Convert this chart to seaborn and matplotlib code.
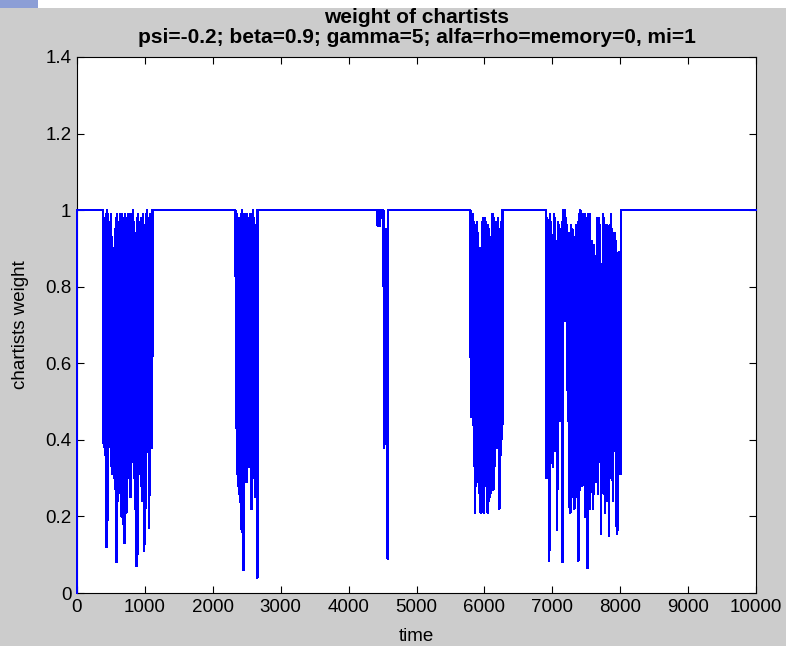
"""Weight of chartists over time (MATLAB-style figure)."""

import matplotlib
matplotlib.use("Agg")
import matplotlib.pyplot as plt
import numpy as np
import pandas as pd
import seaborn as sns
from matplotlib.patches import Rectangle

# burst windows (time) where the chartists weight leaves 1
burst_starts = [385, 2332, 4420, 4515, 5793, 6907]
burst_ends = [1108, 2656, 4480, 4575, 6264, 8007]

# upper / lower envelope of the oscillation, one pair per pixel column
burst1_hi = [0.96, 0.98, 0.78, 0.99, 1.0, 0.99, 0.92, 0.97, 0.99, 0.93,
             0.86, 0.90, 0.95, 0.98, 0.99, 0.97, 0.78, 0.99, 0.97, 0.99,
             0.98, 0.93, 0.99, 0.96, 0.98, 0.99, 0.97, 0.99, 0.80, 0.99,
             1.0, 0.97, 0.94, 0.90, 0.98, 0.99, 0.97, 0.96, 0.98, 0.95,
             0.99, 0.96, 0.86, 0.99, 1.0, 0.98, 0.97, 0.99, 0.97, 0.98]
burst1_lo = [0.39, 0.38, 0.36, 0.12, 0.19, 0.42, 0.42, 0.38, 0.33, 0.31,
             0.36, 0.30, 0.27, 0.08, 0.24, 0.26, 0.33, 0.30, 0.20, 0.23,
             0.18, 0.13, 0.25, 0.21, 0.34, 0.30, 0.36, 0.25, 0.34, 0.38,
             0.36, 0.30, 0.22, 0.07, 0.10, 0.31, 0.34, 0.32, 0.28, 0.24,
             0.30, 0.11, 0.19, 0.33, 0.40, 0.41, 0.17, 0.36, 0.38, 0.38]

burst2_hi = [1.0, 0.83, 0.99, 0.92, 0.98, 0.85, 0.99, 1.0, 0.99, 0.97,
             0.99, 0.93, 0.99, 0.98, 0.97, 0.99, 0.98, 0.99, 1.0, 0.98,
             0.96, 0.88, 0.90]
burst2_lo = [0.76, 0.31, 0.28, 0.26, 0.24, 0.20, 0.16, 0.28, 0.06, 0.30,
             0.52, 0.29, 0.33, 0.36, 0.33, 0.34, 0.22, 0.32, 0.34, 0.30,
             0.25, 0.36, 0.04]

burst3a_hi = [1.0, 1.0, 1.0, 1.0]
burst3a_lo = [0.96, 1.0, 0.96, 1.0]
burst3_hi = [0.96, 0.95, 0.95, 0.94, 0.95]
burst3_lo = [0.38, 0.39, 0.40, 0.39, 0.09]

burst4_hi = [1.0, 0.84, 0.99, 0.98, 0.97, 0.96, 0.95, 0.97, 0.94, 0.90,
             0.89, 0.90, 0.97, 0.98, 0.93, 0.98, 0.97, 0.96, 0.96, 0.95,
             0.93, 0.91, 0.99, 0.99, 0.98, 0.97, 0.95, 0.97, 0.98, 0.95,
             0.91, 0.97, 0.98]
burst4_lo = [0.46, 0.46, 0.44, 0.39, 0.21, 0.28, 0.30, 0.29, 0.28, 0.26,
             0.21, 0.23, 0.25, 0.21, 0.28, 0.35, 0.45, 0.21, 0.24, 0.25,
             0.26, 0.38, 0.30, 0.27, 0.33, 0.38, 0.40, 0.38, 0.40, 0.22,
             0.36, 0.40, 0.44]

burst5_hi = [1.0, 0.98, 0.84, 0.99, 0.97, 0.90, 0.99, 0.98, 0.92, 0.97,
             0.96, 0.95, 0.97, 1.0, 1.0, 0.98, 0.96, 0.94, 0.94, 0.96,
             0.95, 0.93, 0.85, 0.96, 0.97, 0.99, 1.0, 0.99, 0.96, 0.99,
             0.98, 0.77, 0.99, 0.99, 0.92, 0.92, 0.91, 0.74, 0.88, 0.98,
             0.98, 0.96, 0.82, 0.99, 0.98, 0.96, 0.96, 0.95, 0.96, 0.99,
             0.95, 0.94, 0.94, 0.92, 0.85, 0.89, 0.80]
burst5_lo = [0.30, 0.35, 0.085, 0.40, 0.34, 0.33, 0.37, 0.38, 0.165, 0.49,
             0.45, 0.45, 0.08, 0.71, 0.71, 0.71, 0.45, 0.225, 0.21, 0.25,
             0.29, 0.22, 0.25, 0.30, 0.085, 0.27, 0.47, 0.28, 0.41, 0.20,
             0.20, 0.065, 0.26, 0.22, 0.37, 0.22, 0.26, 0.29, 0.40, 0.26,
             0.40, 0.155, 0.35, 0.26, 0.21, 0.39, 0.24, 0.15, 0.30, 0.40,
             0.24, 0.37, 0.40, 0.155, 0.165, 0.31, 0.31]

burst_hi = [burst1_hi, burst2_hi, burst3a_hi, burst3_hi, burst4_hi, burst5_hi]
burst_lo = [burst1_lo, burst2_lo, burst3a_lo, burst3_lo, burst4_lo, burst5_lo]

x_ticks = list(range(0, 10001, 1000))
y_ticks = [0, 0.2, 0.4, 0.6, 0.8, 1.0, 1.2, 1.4]
y_tick_labels = ["0", "0.2", "0.4", "0.6", "0.8", "1", "1.2", "1.4"]

title_text = "weight of chartists\npsi=-0.2; beta=0.9; gamma=5; alfa=rho=memory=0, mi=1"

# assemble the series: starts at 0, sits at 1 between bursts
times = [0.0, 1.0]
weights = [0.0, 1.0]
for start, end, hi, lo in zip(burst_starts, burst_ends, burst_hi, burst_lo):
    pairs = np.column_stack([hi, lo]).ravel()
    times.append(start - 3)
    weights.append(1.0)
    times += list(np.linspace(start, end, len(pairs)))
    weights += list(pairs)
    times.append(end + 3)
    weights.append(1.0)
times.append(10000.0)
weights.append(1.0)
df = pd.DataFrame({"time": times, "weight": weights})

sns.set_style("ticks")
plt.rcParams["font.family"] = ["Liberation Sans", "DejaVu Sans"]
plt.rcParams["path.simplify"] = False
plt.rcParams["text.color"] = "black"
plt.rcParams["axes.labelcolor"] = "black"

fig = plt.figure(figsize=(7.86, 6.46), dpi=100, facecolor="#cccccc")
ax = fig.add_axes([77 / 786, 53 / 646, 679 / 786, 536 / 646])
ax.set_facecolor("white")

# MATLAB draws the trace without anti-aliasing, which keeps the bursts solid
sns.lineplot(data=df, x="time", y="weight", sort=False, estimator=None,
             color="#0000ff", linewidth=1.0, antialiased=False, clip_on=False,
             ax=ax, zorder=3)

ax.set_xlim(0, 10000)
ax.set_ylim(0, 1.4)
ax.set_xticks(x_ticks)
ax.set_xticklabels([str(v) for v in x_ticks])
ax.set_yticks(y_ticks)
ax.set_yticklabels(y_tick_labels)
ax.tick_params(direction="in", length=5, width=0.8, colors="black",
               labelsize=13.5, top=True, right=True, pad=4)
for side in ax.spines.values():
    side.set_visible(True)
    side.set_color("black")
    side.set_linewidth(0.8)

ax.set_xlabel("time", fontsize=13.5, labelpad=9)
ax.set_ylabel("chartists weight", fontsize=13.5, labelpad=12)
ax.set_title(title_text, fontsize=15, fontweight="bold", pad=10,
             linespacing=1.05, color="black")

# white strip with the little blue tab across the top edge
fig.patches.append(Rectangle((0, 1 - 8 / 646), 1, 8 / 646, transform=fig.transFigure,
                             facecolor="white", edgecolor="none"))
fig.patches.append(Rectangle((0, 1 - 8 / 646), 38 / 786, 8 / 646, transform=fig.transFigure,
                             facecolor="#8c9ed6", edgecolor="none"))

fig.savefig("out.png", dpi=100, facecolor=fig.get_facecolor())
